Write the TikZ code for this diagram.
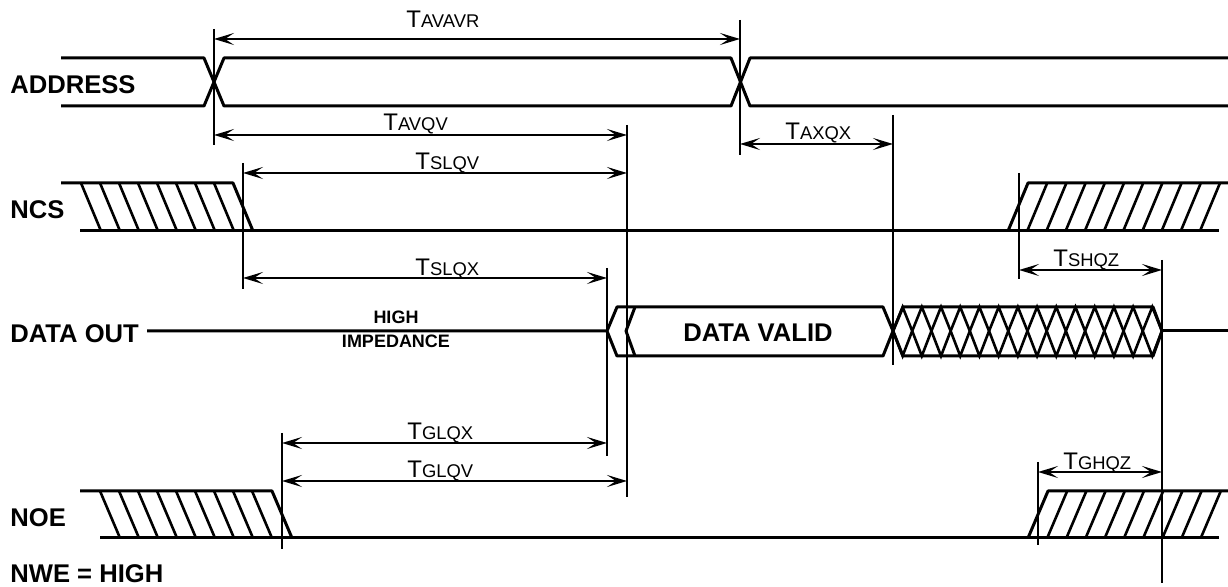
\documentclass[tikz,border=0pt]{standalone}
\usepackage{fontspec}
\setmainfont{Liberation Sans}
\usetikzlibrary{arrows.meta}

\newcommand{\tlab}[2]{{\fontsize{12}{13}\selectfont #1}{\fontsize{9.2}{10}\selectfont #2}}

\begin{document}
\begin{tikzpicture}[x=0.5pt, y=-0.5pt,
  >={Stealth[length=10pt, width=6pt, inset=4.5pt]},
  sig/.style   = {line width=1.5pt, line join=round},
  hatch/.style = {line width=1.3pt},
  marker/.style= {line width=1pt},
  dimline/.style = {<->, line width=1.3pt},
  signame/.style = {font=\bfseries\fontsize{12.8}{14}\selectfont, anchor=west, inner sep=0pt},
  inlabel/.style = {font=\bfseries\fontsize{12.8}{14}\selectfont, inner sep=0pt},
  zlabel/.style  = {font=\bfseries\fontsize{9}{10}\selectfont, inner sep=0pt},
  tim/.style   = {anchor=base west, inner sep=0pt},
]
  \useasboundingbox (0,0) rectangle (1228,587);

  \node[signame] (address) at (10,85)  {ADDRESS};
  \node[signame] (ncs)     at (10,210) {NCS};
  \node[signame] (dout)    at (10,334) {DATA OUT};
  \node[signame] (noe)     at (10,518) {NOE};
  \node[signame] (nwe)     at (10,574) {NWE = HIGH};

  % address bus
  \draw[sig] (61,58) -- (204,58) -- (224,106) -- (731,106) -- (750,58) -- (1228,58);
  \draw[sig] (61,106) -- (204,106) -- (224,58) -- (731,58) -- (750,106) -- (1228,106);

  % chip select
  \draw[sig] (61,183) -- (233,183) -- (253,231);
  \draw[sig] (80,231) -- (1219,231);
  \foreach \k in {0,...,7} \draw[hatch] (81+19*\k,183) -- (101+19*\k,231);
  \draw[sig] (1008,231) -- (1028,183) -- (1228,183);
  \foreach \k in {1,...,10} \draw[hatch] (1008+19.2*\k,231) -- (1028+19.2*\k,183);

  % data out
  \draw[sig] (147,331) -- (607,331) -- (617,307) -- (883,307) -- (893,331) -- (883,356) -- (617,356) -- (607,331);
  \draw[sig] (635,307) -- (626,331) -- (635,356);
  \draw[sig] (893,331) -- (903,307) -- (1153,307) -- (1162,331) -- (1153,356) -- (903,356) -- cycle;
  \foreach \k in {0,...,13}
    \draw[hatch] (893+19.21*\k,331) -- (902.6+19.21*\k,307) -- (912.2+19.21*\k,331) -- (902.6+19.21*\k,356) -- cycle;
  \draw[sig] (1162,331) -- (1228,331);
  \node[zlabel] (high) at (396,317) {HIGH};
  \node[zlabel] (imp)  at (396,341) {IMPEDANCE};
  \node[inlabel] (valid) at (758,333) {DATA VALID};

  % output enable
  \draw[sig] (80,491) -- (272,491) -- (292,538);
  \draw[sig] (100,538) -- (1219,538);
  \foreach \k in {0,...,8} \draw[hatch] (100+19*\k,491) -- (120+19*\k,538);
  \draw[sig] (1028,538) -- (1048,491) -- (1228,491);
  \foreach \k in {1,...,9} \draw[hatch] (1028+19.2*\k,538) -- (1048+19.2*\k,491);

  % reference lines
  \foreach \n/\x/\ya/\yb in {mA/214/29/145, mB/740/20/155, mC/627/125/497, mD/893/115/365,
      mE/243/163/289, mF/607/268/456, mG/1019/173/279, mH/1162/260/583, mI/282/433/549, mJ/1038/462/545}
  {
    \coordinate (\n) at (\x,\ya);
    \draw[marker] (\n) -- (\x,\yb);
  }

  % timing arrows
  \foreach \p/\q/\h in {mA/mB/39, mA/mC/135, mB/mD/144, mE/mC/173, mE/mF/278,
      mG/mH/270, mI/mF/443, mI/mC/481, mJ/mH/472}
  {
    \coordinate (lvl) at (0,\h);
    \draw[dimline] (\p |- lvl) -- (\q |- lvl);
  }

  \node[tim] (tavavr) at (406,28)  {\tlab{T}{AVAVR}};
  \node[tim] (tavqv)  at (383,131) {\tlab{T}{AVQV}};
  \node[tim] (taxqx)  at (785,140) {\tlab{T}{AXQX}};
  \node[tim] (tslqv)  at (415,170) {\tlab{T}{SLQV}};
  \node[tim] (tslqx)  at (415,276) {\tlab{T}{SLQX}};
  \node[tim] (tshqz)  at (1053,267) {\tlab{T}{SHQZ}};
  \node[tim] (tglqx)  at (407,440) {\tlab{T}{GLQX}};
  \node[tim] (tglqv)  at (407,478) {\tlab{T}{GLQV}};
  \node[tim] (tghqz)  at (1063,470) {\tlab{T}{GHQZ}};
\end{tikzpicture}
\end{document}
